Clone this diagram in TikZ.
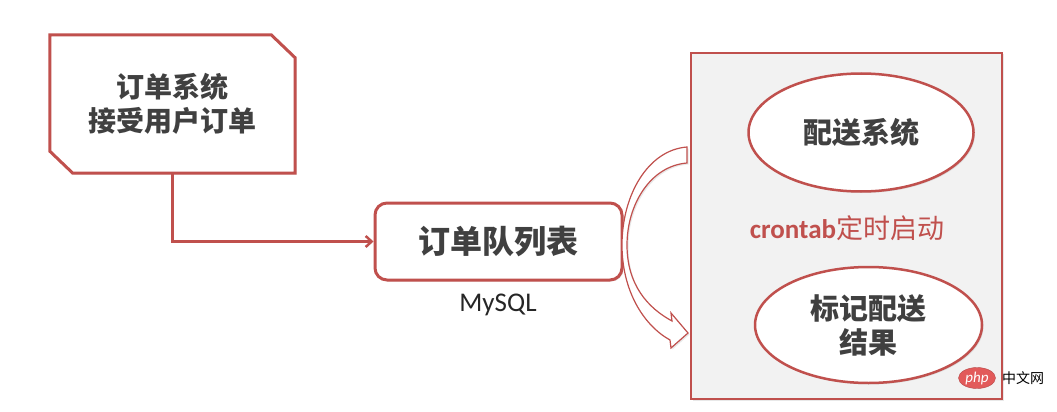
\documentclass[tikz,border=0pt]{standalone}
\usepackage{fontspec}
\setmainfont{Carlito}
\newfontfamily\cjk{Noto Sans CJK SC}
\usetikzlibrary{shapes.geometric,arrows.meta,shadows,calc}
\definecolor{bred}{HTML}{C0504D}
\definecolor{tgray}{HTML}{404040}
\definecolor{pgray}{HTML}{F2F2F2}
\definecolor{phpred}{HTML}{E25A5A}
\begin{document}
\begin{tikzpicture}[x=1pt,y=-1pt,
  cjkbold/.style={font=\cjk\bfseries\fontsize{#1}{34pt}\selectfont, text=tgray, align=center},
  shad/.style={drop shadow={opacity=0.18, shadow xshift=1.5pt, shadow yshift=-1.5pt}},
  oval/.style={ellipse, draw=bred, line width=2.5pt, fill=white, shad},
  link/.style={draw=bred, line width=3pt, -{Straight Barb[length=6pt,width=11pt,line width=2.5pt]}}
]
\useasboundingbox (0,0) rectangle (1057,412);
% panel
\node[draw=bred, line width=1.3pt, fill=pgray, minimum width=311, minimum height=346, shad] (panel) at (846.5,226) {};
% order system box (snipped corners)
\node[minimum width=245, minimum height=138, inner sep=0] (sys) at (172.5,104) {};
\draw[bred, line width=3pt, fill=white, line join=miter, shad]
  (sys.north west) -- ($(sys.north east)+(-24,0)$) -- ($(sys.north east)+(0,23)$)
  -- (sys.south east) -- ($(sys.south west)+(23,0)$) -- ($(sys.south west)+(0,-22)$) -- cycle;
\node[cjkbold=28pt] at (sys.center) {订单系统\\接受用户订单};
% queue
\node[draw=bred, line width=3pt, rounded corners=12pt, fill=white, minimum width=247, minimum height=77, shad,
  cjkbold=32pt] (queue) at (498.5,241.5) {订单队列表};
\node[font=\fontsize{27pt}{27pt}\selectfont, text=black!85] (mysql) at (498,305) {MySQL};
% connector
\draw[link] (sys.south) |- (queue.west);
% ellipses
\node[oval, minimum width=225, minimum height=118, cjkbold=29pt] (deliv) at (861,132.5) {配送系统};
\node[oval, minimum width=227, minimum height=116, cjkbold=29pt] (mark) at (868.5,325) {标记配送\\结果};
\node[text=bred, font=\fontsize{27pt}{27pt}\selectfont] (cron) at (847,228) {\textbf{crontab}{\cjk 定时启动}};
% curved block arrow
\draw[bred, line width=1.2pt, fill=white, line join=miter, shad]
  (687,147) .. controls (648,150) and (622,195) .. (622,245)
  .. controls (622,290) and (643,325) .. (670,340)
  -- (671,348) -- (688,333) -- (671,313) -- (672,321)
  .. controls (648,308) and (627,285) .. (627,245)
  .. controls (627,205) and (650,166) .. (687,163) -- cycle;
% watermark
\node[ellipse, fill=phpred, draw=phpred!80!black, line width=0.4pt, minimum width=37, minimum height=21, inner sep=0,
  text=white, font=\itshape\fontsize{15pt}{15pt}\selectfont] (php) at (977,378) {php};
\node[anchor=west, inner sep=0, font=\cjk\fontsize{14pt}{14pt}\selectfont] (zw) at (1002,378) {中文网};
\end{tikzpicture}
\end{document}
